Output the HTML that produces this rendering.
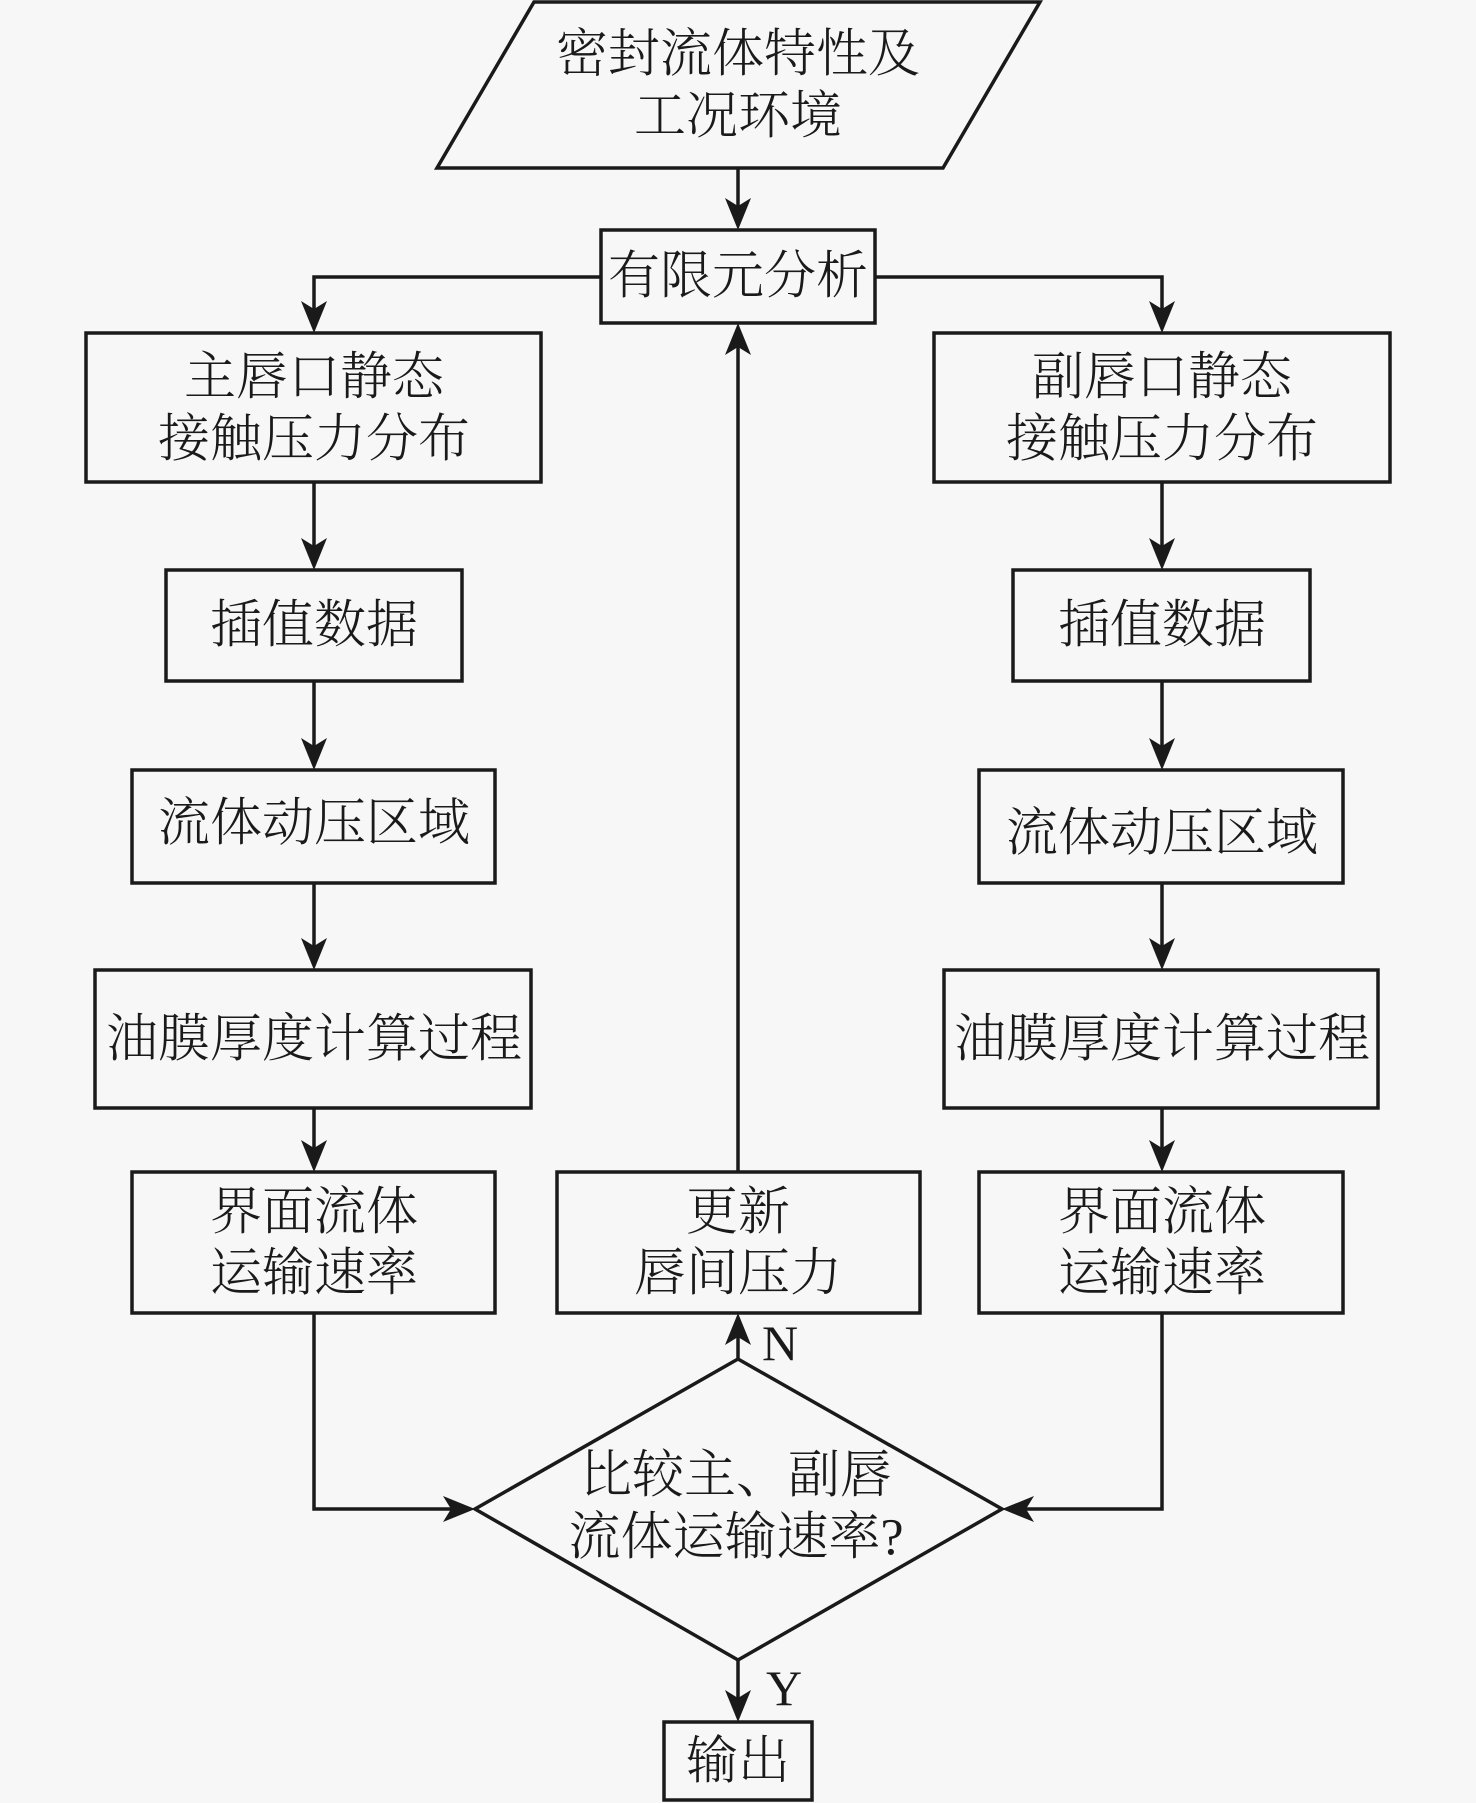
<!DOCTYPE html>
<html><head><meta charset="utf-8"><style>
html,body{margin:0;padding:0;background:#f7f7f7;}
svg{display:block;}
text{font-family:"Liberation Serif","Noto Serif CJK SC","Noto Sans CJK SC",serif;font-size:52px;fill:#1a1a1a;font-weight:300;}
</style></head><body>
<svg width="1476" height="1803" viewBox="0 0 1476 1803" xmlns="http://www.w3.org/2000/svg">
<rect x="0" y="0" width="1476" height="1803" fill="#f7f7f7"/>
<g fill="none" stroke="#1a1a1a" stroke-width="3.5">
<polygon points="534,2 1040,2 943,168 437,168"/>
<rect x="601" y="230" width="274" height="93"/>
<rect x="86" y="333" width="455" height="149"/>
<rect x="934" y="333" width="456" height="149"/>
<rect x="166" y="570" width="296" height="111"/>
<rect x="1013" y="570" width="297" height="111"/>
<rect x="132" y="770" width="363" height="113"/>
<rect x="979" y="770" width="364" height="113"/>
<rect x="95" y="970" width="436" height="138"/>
<rect x="944" y="970" width="434" height="138"/>
<rect x="132" y="1172" width="363" height="141"/>
<rect x="557" y="1172" width="363" height="141"/>
<rect x="979" y="1172" width="364" height="141"/>
<polygon points="738,1359 1002,1509 738,1660 475,1509"/>
<rect x="664" y="1722" width="148" height="78"/>
<line x1="738" y1="168" x2="738" y2="215"/>
<polyline points="601,277 314,277 314,320"/>
<polyline points="875,277 1162,277 1162,320"/>
<line x1="314" y1="482" x2="314" y2="558"/>
<line x1="1162" y1="482" x2="1162" y2="558"/>
<line x1="314" y1="681" x2="314" y2="758"/>
<line x1="1162" y1="681" x2="1162" y2="758"/>
<line x1="314" y1="883" x2="314" y2="958"/>
<line x1="1162" y1="883" x2="1162" y2="958"/>
<line x1="314" y1="1108" x2="314" y2="1160"/>
<line x1="1162" y1="1108" x2="1162" y2="1160"/>
<line x1="738" y1="1172" x2="738" y2="340"/>
<line x1="738" y1="1359" x2="738" y2="1330"/>
<polyline points="314,1313 314,1509 460,1509"/>
<polyline points="1162,1313 1162,1509 1017,1509"/>
<line x1="738" y1="1660" x2="738" y2="1708"/>
</g>
<g fill="#1a1a1a">
<polygon points="738,230 725,198 738,206 751,198"/>
<polygon points="314,333 301,301 314,309 327,301"/>
<polygon points="1162,333 1149,301 1162,309 1175,301"/>
<polygon points="314,570 301,538 314,546 327,538"/>
<polygon points="1162,570 1149,538 1162,546 1175,538"/>
<polygon points="314,770 301,738 314,746 327,738"/>
<polygon points="1162,770 1149,738 1162,746 1175,738"/>
<polygon points="314,970 301,938 314,946 327,938"/>
<polygon points="1162,970 1149,938 1162,946 1175,938"/>
<polygon points="314,1172 301,1140 314,1148 327,1140"/>
<polygon points="1162,1172 1149,1140 1162,1148 1175,1140"/>
<polygon points="738,1722 725,1690 738,1698 751,1690"/>
<polygon points="738,323 725,355 738,347 751,355"/>
<polygon points="738,1313 725,1345 738,1337 751,1345"/>
<polygon points="475,1509 443,1496 451,1509 443,1522"/>
<polygon points="1002,1509 1034,1496 1026,1509 1034,1522"/>
</g>
<g text-anchor="middle" dominant-baseline="central">
<text x="738" y="55">密封流体特性及</text>
<text x="738" y="117">工况环境</text>
<text x="738" y="277">有限元分析</text>
<text x="314" y="378">主唇口静态</text>
<text x="314" y="440">接触压力分布</text>
<text x="1162" y="378">副唇口静态</text>
<text x="1162" y="440">接触压力分布</text>
<text x="314" y="626">插值数据</text>
<text x="1162" y="626">插值数据</text>
<text x="314" y="824">流体动压区域</text>
<text x="1162" y="834">流体动压区域</text>
<text x="314" y="1040">油膜厚度计算过程</text>
<text x="1162" y="1040">油膜厚度计算过程</text>
<text x="314" y="1213">界面流体</text>
<text x="314" y="1274">运输速率</text>
<text x="738" y="1213">更新</text>
<text x="738" y="1274">唇间压力</text>
<text x="1162" y="1213">界面流体</text>
<text x="1162" y="1274">运输速率</text>
<text x="736" y="1476">比较主、副唇</text>
<text x="736" y="1538">流体运输速率?</text>
<text x="738" y="1762">输出</text>
</g>
<text x="762" y="1360" style="font-size:50px;font-weight:400">N</text>
<text x="766" y="1705" style="font-size:50px;font-weight:400">Y</text>
</svg>
</body></html>
